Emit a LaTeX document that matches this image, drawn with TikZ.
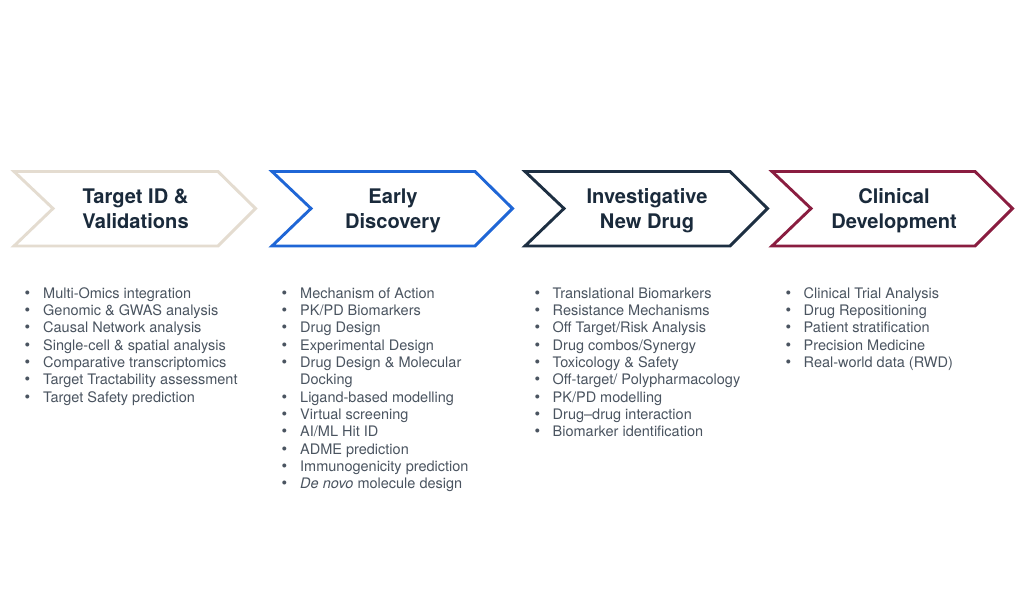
\documentclass[tikz,border=0pt]{standalone}
\usepackage{fontspec}
\setmainfont{TeX Gyre Heros}
\usepackage{array}
\definecolor{cbeige}{HTML}{E4DCD0}
\definecolor{cblue}{HTML}{1F66D6}
\definecolor{cnavy}{HTML}{1D2F42}
\definecolor{cmaroon}{HTML}{8A1D40}
\definecolor{ctitle}{HTML}{1A2A3B}
\definecolor{ctext}{HTML}{4A5460}
\newcommand{\drawchev}[4]{% L, R, colour, name
  \draw[chevline,draw=#3] (#1,171.5) -- (#2,171.5) -- (#2+37.5,208.5) -- (#2,246) -- (#1,246) -- (#1+39,208.5) -- cycle;
}
\newcommand{\bl}{\hspace*{-0.6pt}\raisebox{0pt}{\fontsize{16}{12}\selectfont\textbullet}}
\newcommand{\ttl}[2]{\begin{tabular}[t]{@{}c@{}}#1\\#2\end{tabular}}
\begin{document}
\begin{tikzpicture}[x=1pt,y=-1pt,
  chevline/.style={line width=2.9pt,line join=miter,fill=white},
  title/.style={anchor=base,font=\fontsize{20.1}{25}\selectfont\bfseries,text=ctitle,inner sep=0pt},
  list/.style={anchor=base west,inner sep=0pt,text=ctext,font=\fontsize{14.5}{17.35}\selectfont}]
\useasboundingbox[fill=white] (0,0) rectangle (1024,615);
\drawchev{14}{218}{cbeige}{c1}
\drawchev{272}{475}{cblue}{c2}
\drawchev{525}{730}{cnavy}{c3}
\drawchev{772}{975}{cmaroon}{c4}
\node[title] (t1) at (135.5,203.5) {\ttl{Target ID \&}{Validations}};
\node[title] (t2) at (393,203.5) {\ttl{Early}{Discovery}};
\node[title] (t3) at (647,203.5) {\ttl{Investigative}{New Drug}};
\node[title] (t4) at (894,203.5) {\ttl{Clinical}{Development}};
\node[list] (l1) at (25,298) {\begin{tabular}[t]{@{}p{18pt}@{}l@{}}
\bl & Multi-Omics integration\\
\bl & Genomic \& GWAS analysis\\
\bl & Causal Network analysis\\
\bl & Single-cell \& spatial analysis\\
\bl & Comparative transcriptomics\\
\bl & Target Tractability assessment\\
\bl & Target Safety prediction
\end{tabular}};
\node[list] (l2) at (282,298) {\begin{tabular}[t]{@{}p{18pt}@{}l@{}}
\bl & Mechanism of Action\\
\bl & PK/PD Biomarkers\\
\bl & Drug Design\\
\bl & Experimental Design\\
\bl & Drug Design \& Molecular\\
 & Docking\\
\bl & Ligand-based modelling\\
\bl & Virtual screening\\
\bl & AI/ML Hit ID\\
\bl & ADME prediction\\
\bl & Immunogenicity prediction\\
\bl & \textit{De novo} molecule design
\end{tabular}};
\node[list] (l3) at (535,298) {\begin{tabular}[t]{@{}p{17.5pt}@{}l@{}}
\bl & Translational Biomarkers\\
\bl & Resistance Mechanisms\\
\bl & Off Target/Risk Analysis\\
\bl & Drug combos/Synergy\\
\bl & Toxicology \& Safety\\
\bl & Off-target/ Polypharmacology\\
\bl & PK/PD modelling\\
\bl & Drug--drug interaction\\
\bl & Biomarker identification
\end{tabular}};
\node[list] (l4) at (786,298) {\begin{tabular}[t]{@{}p{17.5pt}@{}l@{}}
\bl & Clinical Trial Analysis\\
\bl & Drug Repositioning\\
\bl & Patient stratification\\
\bl & Precision Medicine\\
\bl & Real-world data (RWD)
\end{tabular}};
\end{tikzpicture}
\end{document}
